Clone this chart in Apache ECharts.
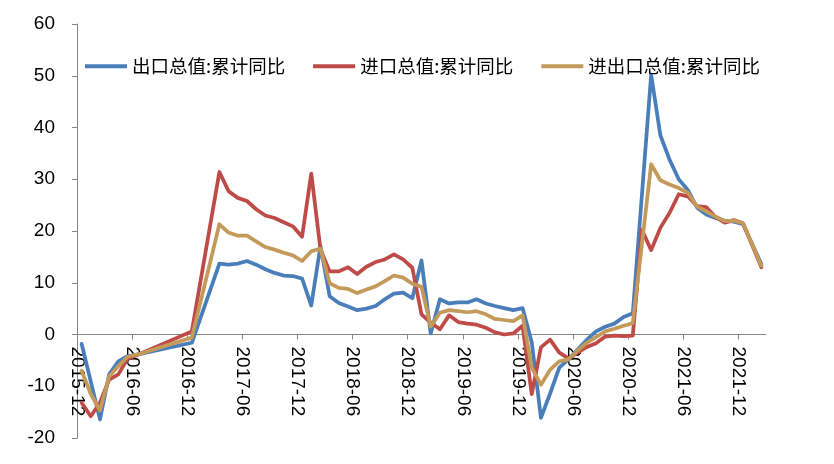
<!DOCTYPE html>
<html><head><meta charset="utf-8">
<script src="https://cdn.jsdelivr.net/npm/echarts@6/dist/echarts.min.js"></script>
<style>html,body{margin:0;padding:0;background:#fff}#c{width:834px;height:464px}</style>
</head><body><div id="c"></div><script>
// Months (cumulative YoY, %). null = not reported / not shown.
const months = [
 '2015-12',
 '2016-01','2016-02','2016-03','2016-04','2016-05','2016-06','2016-07','2016-08','2016-09','2016-10','2016-11','2016-12',
 '2017-01','2017-02','2017-03','2017-04','2017-05','2017-06','2017-07','2017-08','2017-09','2017-10','2017-11','2017-12',
 '2018-01','2018-02','2018-03','2018-04','2018-05','2018-06','2018-07','2018-08','2018-09','2018-10','2018-11','2018-12',
 '2019-01','2019-02','2019-03','2019-04','2019-05','2019-06','2019-07','2019-08','2019-09','2019-10','2019-11','2019-12',
 '2020-01','2020-02','2020-03','2020-04','2020-05','2020-06','2020-07','2020-08','2020-09','2020-10','2020-11','2020-12',
 '2021-01','2021-02','2021-03','2021-04','2021-05','2021-06','2021-07','2021-08','2021-09','2021-10','2021-11','2021-12',
 '2022-01','2022-02'
];
const exportYoY = [
 -1.8,
 null,-16.4,-7.7,-5.2,-4.2,-3.9,null,null,null,null,null,-1.6,
 null,null,13.7,13.5,13.7,14.2,13.5,12.6,11.9,11.4,11.3,10.8,
 5.6,17.1,7.4,6.1,5.4,4.7,5.0,5.5,6.8,7.9,8.1,7.0,
 14.3,0.2,6.8,6.0,6.2,6.2,6.8,6.0,5.5,5.1,4.7,5.1,
 -1.5,-16.1,-11.4,-6.4,-4.8,-2.9,-1.0,0.6,1.5,2.1,3.4,4.1,
 null,50.2,38.5,33.8,30.0,27.9,24.5,23.2,22.5,22.0,21.8,21.3,
 null,13.6
];
const importYoY = [
 -13.2,
 -15.8,-13.2,-8.7,-7.7,-4.7,-4.0,null,null,null,null,null,0.6,
 null,null,31.4,27.7,26.4,25.8,24.2,23.0,22.5,21.7,20.9,18.9,
 31.1,16.5,12.2,12.2,13.0,11.7,13.1,14.0,14.5,15.5,14.5,12.9,
 3.9,2.3,1.0,3.7,2.4,2.1,1.9,1.3,0.4,0.0,0.2,1.7,
 -11.5,-2.5,-1.0,-3.5,-4.6,-3.5,-2.4,-1.7,-0.4,-0.2,-0.3,-0.2,
 20.2,16.3,20.6,23.5,27.1,26.7,24.8,24.6,22.7,21.6,22.1,21.5,
 null,13.0
];
const totalYoY = [
 -7.0,
 -11.5,-14.7,-8.1,-6.1,-4.3,-3.9,null,null,null,null,null,-0.6,
 null,null,21.3,19.7,19.1,19.1,18.0,16.9,16.4,15.8,15.3,14.2,
 16.1,16.6,9.9,9.0,8.8,8.0,8.7,9.3,10.3,11.4,11.0,9.8,
 9.2,1.5,4.2,4.7,4.5,4.3,4.5,3.9,3.0,2.8,2.6,3.7,
 -6.4,-9.7,-6.8,-5.2,-4.8,-3.1,-1.6,-0.5,0.6,1.1,1.7,2.2,
 null,32.9,29.8,29.0,28.3,27.4,24.7,23.8,22.8,21.9,22.0,21.5,
 null,13.3
];
const seriesNames = ['出口总值:累计同比','进口总值:累计同比','进出口总值:累计同比'];
const xTickLabels = ['2015-12','2016-06','2016-12','2017-06','2017-12','2018-06','2018-12','2019-06','2019-12','2020-06','2020-12','2021-06','2021-12'];
const axisEndMonth = '2022-03';
const yMin = -20, yMax = 60, yStep = 10;

// month label -> months since 2015-12 (start of month)
function monthOffset(s){ const [y,m]=s.split('-').map(Number); return (y-2015)*12 + (m-12); }
const tickVals = xTickLabels.map(monthOffset);
// monthly values plotted at the middle of their month
function toPoints(vals){
  const out=[];
  months.forEach((m,i)=>{ if(vals[i]!==null) out.push([monthOffset(m)+0.5, vals[i]]); });
  return out;
}
const W=834,H=464;
const grid={left:77,right:68,top:24,bottom:26};
const plotH = H-grid.top-grid.bottom;
// x axis crosses the y axis at value 0
const zeroOffset = -plotH*(0-yMin)/(yMax-yMin);

const colors = ['#4A7EBB','#BE4B48','#C39A5A'];
const allVals=[exportYoY,importYoY,totalYoY];
const chart = echarts.init(document.getElementById('c'), null, {renderer:'canvas',width:W,height:H});
chart.setOption({
  animation:false,
  backgroundColor:'#fff',
  color:colors,
  grid:Object.assign({containLabel:false,outerBoundsMode:'none'},grid),
  legend:{
    top:52,left:80,itemWidth:42,itemHeight:4,itemGap:28,icon:'rect',
    textStyle:{fontSize:18.5,fontFamily:'Noto Sans CJK SC',color:'#000'},
    data:seriesNames
  },
  xAxis:{
    type:'value',min:0,max:monthOffset(axisEndMonth),interval:6,
    offset:zeroOffset,
    axisLine:{onZero:false,lineStyle:{color:'#868686',width:1}},
    axisTick:{show:true,length:5,customValues:tickVals,lineStyle:{color:'#868686'}},
    axisLabel:{customValues:tickVals,rotate:-90,margin:12,fontSize:19,color:'#000',fontFamily:'Liberation Sans',
      formatter:(v)=>xTickLabels[tickVals.indexOf(Math.round(v))]||''},
    splitLine:{show:false}
  },
  yAxis:{
    type:'value',min:yMin,max:yMax,interval:yStep,
    axisLine:{show:true,onZero:false,lineStyle:{color:'#868686',width:1}},
    axisTick:{show:true,length:5,lineStyle:{color:'#868686'}},
    axisLabel:{margin:22,fontSize:19,color:'#000',fontFamily:'Liberation Sans'},
    splitLine:{show:false}
  },
  series:seriesNames.map((n,k)=>({
    name:n,type:'line',symbol:'none',connectNulls:true,
    lineStyle:{width:3.75,color:colors[k],cap:'round',join:'round'},
    data:toPoints(allVals[k])
  }))
});
</script></body></html>
